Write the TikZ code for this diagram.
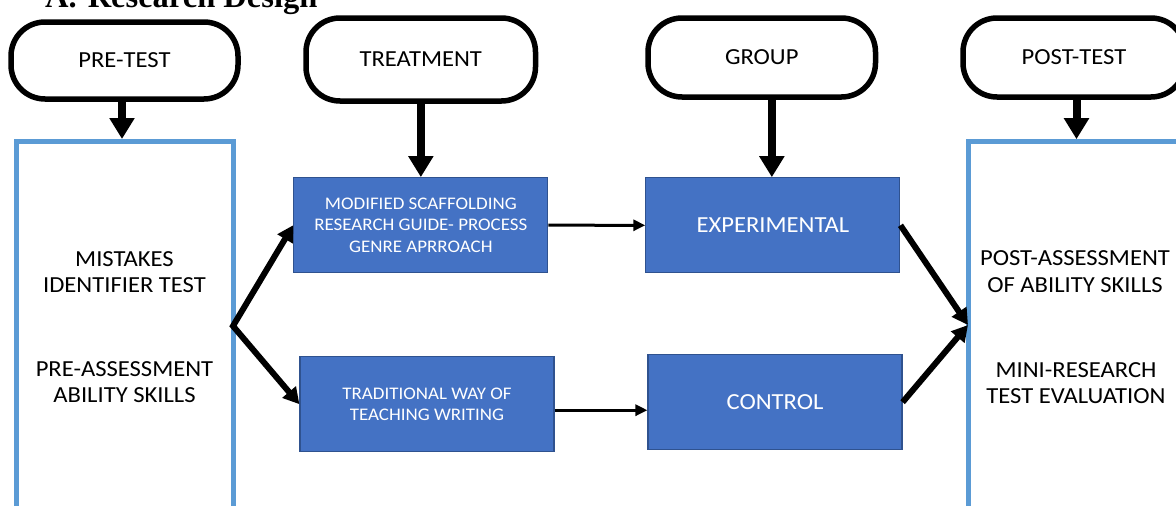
\documentclass[tikz,border=0pt]{standalone}
\usepackage{fontspec}
\setmainfont{Carlito}[FakeStretch=1.07]
\newfontfamily\titlefont{Liberation Serif}
\usetikzlibrary{arrows.meta}
\definecolor{boxblue}{HTML}{4472C4}
\definecolor{boxedge}{HTML}{2F528F}
\definecolor{frameblue}{HTML}{5B9BD5}
\tikzset{
  term/.style={draw=black, line width=5.5pt, rounded corners=34pt, fill=white,
    inner sep=0pt, font=\fontsize{23}{26.5}\selectfont},
  frame/.style={draw=frameblue, line width=5pt, inner sep=0pt},
  bluebox/.style={draw=boxedge, line width=1.2pt, fill=boxblue, text=white,
    minimum width=254pt, minimum height=95pt, inner sep=0pt, align=center},
  smalltext/.style={font=\fontsize{17.7}{21.5}\selectfont},
  bigtext/.style={font=\fontsize{23}{26.5}\selectfont},
  label/.style={inner sep=0pt, align=center, font=\fontsize{23}{26.5}\selectfont},
  downarrow/.style={line width=8pt, -{Triangle[length=21pt,width=24pt]}},
  forkarrow/.style={line width=6pt, line join=miter,
    {Triangle[length=16pt,width=17pt]}-{Triangle[length=16pt,width=17pt]}},
  joinarrow/.style={line width=6pt, -{Triangle[length=16pt,width=17pt]}},
  thinarrow/.style={line width=3pt, -{Triangle[length=12pt,width=11pt]}}
}
\begin{document}
\begin{tikzpicture}[x=1pt,y=-1pt]
\clip (0,0) rectangle (1176,506);

% heading
\node[anchor=base west, inner sep=0pt,
  font=\titlefont\bfseries\fontsize{32.5}{36}\selectfont] (title) at (45,7.5)
  {A.\hspace{11pt}Research Design};

% stage headers
\node[term, minimum width=227pt, minimum height=77pt] (pre) at (124.5,60.5) {PRE-TEST};
\node[term, minimum width=229.5pt, minimum height=83pt] (treat) at (420.75,59.5) {TREATMENT};
\node[term, minimum width=227.5pt, minimum height=79pt] (group) at (761.75,57.5) {GROUP};
\node[term, minimum width=222pt, minimum height=79pt] (post) at (1074,57.5) {POST-TEST};

% assessment frames
\node[frame, minimum width=216.3pt, minimum height=398.5pt] (prebox) at (124.85,340.75) {};
\node[frame, minimum width=231.5pt, minimum height=398.3pt] (postbox) at (1084.25,340.85) {};

\node[label] (pretxt1) at (124.5,272) {MISTAKES\\IDENTIFIER TEST};
\node[label] (pretxt2) at (124.5,382) {PRE-ASSESSMENT\\ABILITY SKILLS};
\node[label] (posttxt1) at (1075,271.5) {POST-ASSESSMENT\\OF ABILITY SKILLS};
\node[label] (posttxt2) at (1076,383) {MINI-RESEARCH\\TEST EVALUATION};

% treatments and groups
\node[bluebox, smalltext] (mod) at (420.85,225.2)
  {MODIFIED SCAFFOLDING\\RESEARCH GUIDE- PROCESS\\GENRE APRROACH};
\node[bluebox, smalltext] (trad) at (427,404.2) {TRADITIONAL WAY OF\\TEACHING WRITING};
\node[bluebox, bigtext] (exp) at (772.85,225.3) {EXPERIMENTAL};
\node[bluebox, bigtext] (ctrl) at (775,402.2) {CONTROL};

\coordinate (fork) at (233,326);
\coordinate (join) at (968,325);

% connectors
\draw[downarrow] ([xshift=-2.5pt]pre.south) -- ([xshift=-2.5pt]pre.south |- prebox.north);
\draw[downarrow] (mod.north |- treat.south) -- (mod.north);
\draw[downarrow] ([xshift=-1pt]exp.north |- group.south) -- ([xshift=-1pt]exp.north);
\draw[downarrow] ([xshift=2.5pt]post.south) -- ([xshift=2.5pt]post.south |- postbox.north);

\draw[forkarrow] (mod.west) -- (fork) -- (trad.west);
\draw[thinarrow] (mod.east) -- (exp.west);
\draw[thinarrow] ([yshift=-6pt]trad.east) -- ([yshift=-6pt]trad.east -| ctrl.west);
\draw[joinarrow] (exp.east) -- (join);
\draw[joinarrow] (ctrl.east) -- (join);
\end{tikzpicture}
\end{document}
